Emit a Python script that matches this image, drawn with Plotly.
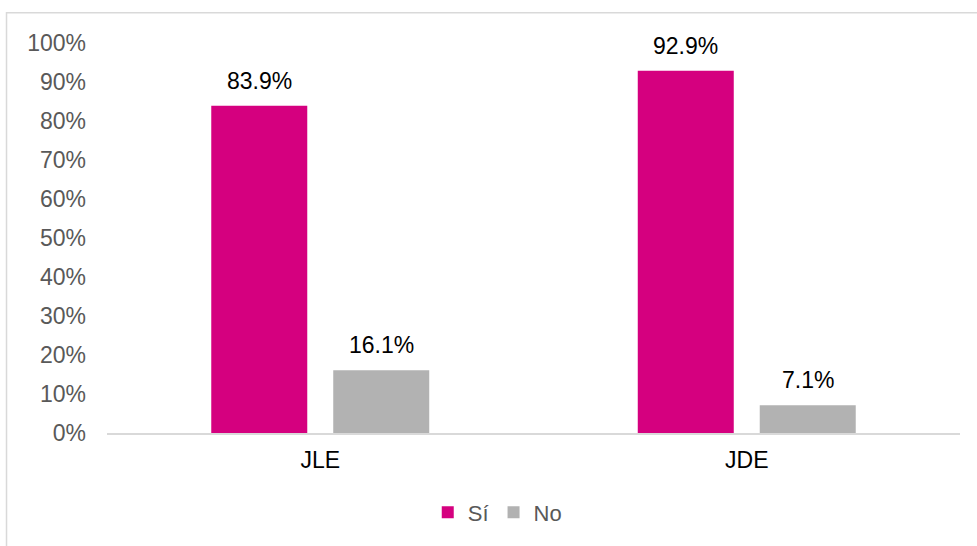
import plotly.graph_objects as go

categories = ["JLE", "JDE"]
si_values = [83.9, 92.9]
no_values = [16.1, 7.1]
series_names = ["Sí", "No"]
colors = ["#D5007F", "#B2B2B2"]

FONT = "Liberation Sans, Arial, sans-serif"

fig = go.Figure()
for name, vals, col in zip(series_names, [si_values, no_values], colors):
    fig.add_trace(go.Bar(x=categories, y=vals, name=name, marker_color=col,
                         marker_line_width=0))

annotations = []
for vals, shift in zip([si_values, no_values], [-61, 61]):
    for c, v in zip(categories, vals):
        annotations.append(dict(x=c, y=v, xref="x", yref="y", text=f"{v:.1f}%",
                                showarrow=False, xshift=shift, yshift=10,
                                yanchor="bottom",
                                font=dict(family=FONT, size=23, color="#000000")))

fig.update_layout(
    width=977, height=546,
    margin=dict(l=107, r=17, t=43, b=111),
    paper_bgcolor="white", plot_bgcolor="white",
    barmode="group", bargap=0.428, bargroupgap=0.213,
    font=dict(family=FONT, size=23, color="#595959"),
    showlegend=True,
    legend=dict(orientation="h", x=0.4575, xanchor="center", y=-0.204, yanchor="middle",
                font=dict(family=FONT, size=22, color="#595959"),
                itemwidth=30, traceorder="normal"),
    annotations=annotations,
    shapes=[dict(type="rect", xref="paper", yref="paper",
                 x0=-0.1178, x1=1.1, y0=-0.5, y1=1.0778,
                 line=dict(color="#D9D9D9", width=1.5), fillcolor="rgba(0,0,0,0)",
                 layer="below")],
)
fig.update_xaxes(showline=True, linecolor="#D9D9D9", linewidth=1.5, showgrid=False,
                 ticks="", tickfont=dict(family=FONT, size=23, color="#000000"),
                 ticklabelstandoff=6)
fig.update_yaxes(range=[0, 100], dtick=10, ticksuffix="%", showgrid=False,
                 zeroline=False, showline=False, ticks="",
                 tickfont=dict(family=FONT, size=23, color="#595959"),
                 ticklabelstandoff=20)

fig.write_html("out.html", config={"displayModeBar": False},
               post_script="document.body.style.margin='0';document.body.style.overflow='hidden';")
